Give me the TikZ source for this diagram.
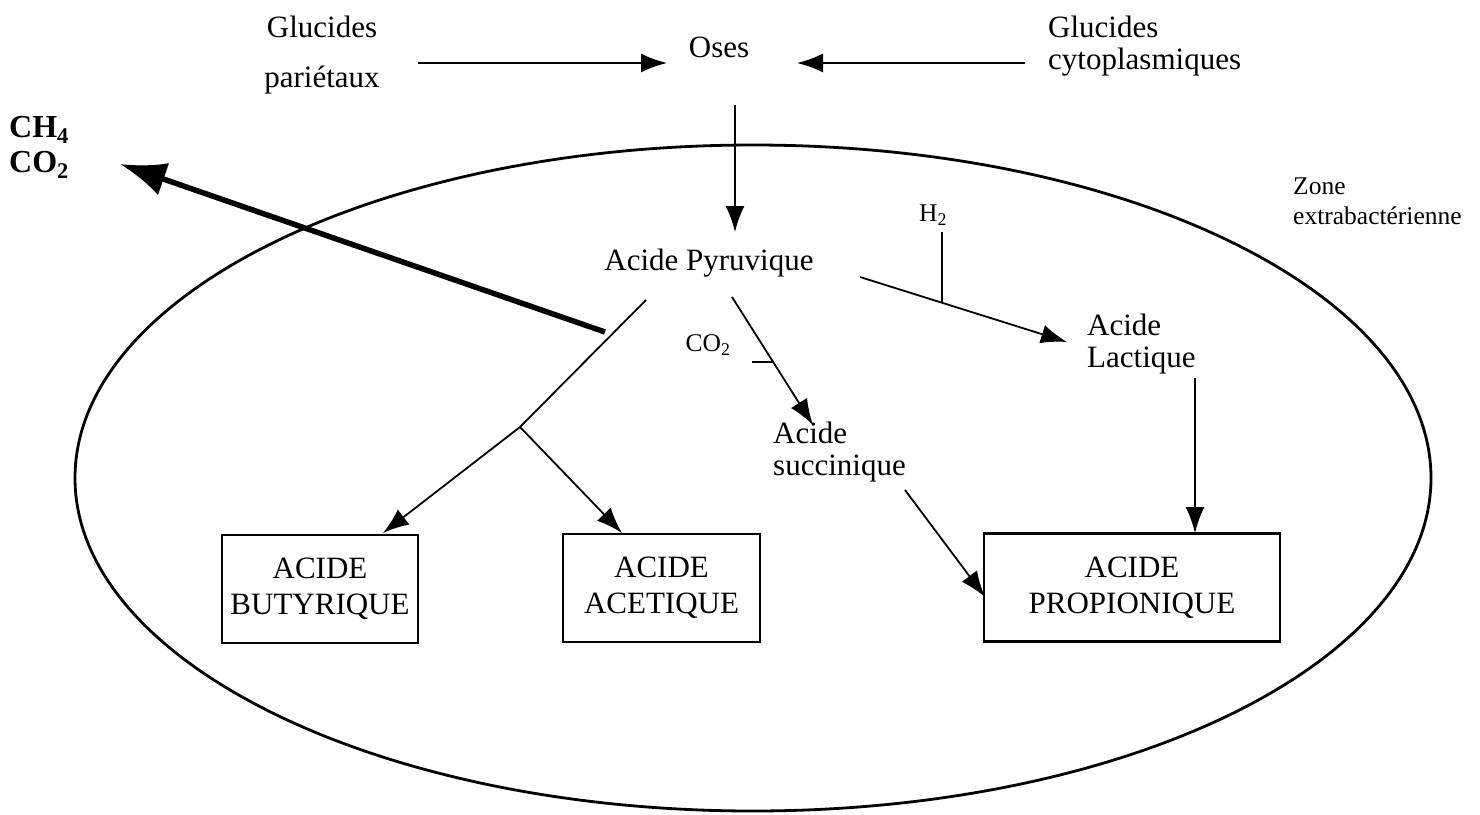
\documentclass[tikz,border=0pt]{standalone}
\usepackage{fontspec}
\setmainfont{Liberation Serif}
\usetikzlibrary{arrows.meta}
\begin{document}
\begin{tikzpicture}[x=1pt,y=-1pt,
  lbl/.style={font=\fontsize{31}{35}\selectfont, inner sep=0pt},
  sml/.style={font=\fontsize{25.5}{29}\selectfont, inner sep=0pt},
  bld/.style={font=\fontsize{32}{36}\selectfont\bfseries, inner sep=0pt, anchor=west},
  conn/.style={line width=1.8pt, -{Latex[length=26pt,width=19pt]}},
  plain/.style={line width=1.8pt},
  boxed/.style={draw, line width=2.6pt, minimum width=#1, minimum height=108pt, align=center,
     font=\fontsize{31}{36}\selectfont, inner sep=0pt},
]
\useasboundingbox (0,0) rectangle (1480,814);
% cell boundary
\draw[line width=2.8pt] (753,478) ellipse [x radius=678, y radius=333];

% texts
\node[lbl] (gp1) at (322,27) {Glucides};
\node[lbl] (gp2) at (322,80) {pariétaux};
\node[lbl] (oses) at (719,47) {Oses};
\node[lbl, anchor=west] (gc1) at (1048,27) {Glucides};
\node[lbl, anchor=west] (gc2) at (1048,62) {cytoplasmiques};
\node[bld] (ch4) at (9,130) {CH\textsubscript{4}};
\node[bld] (co2g) at (9,165) {CO\textsubscript{2}};
\node[lbl] (pyr) at (709,263) {Acide Pyruvique};
\node[sml] (co2) at (708,345) {CO\textsubscript{2}};
\node[sml] (h2) at (933,215) {H\textsubscript{2}};
\node[lbl, anchor=west] (lac1) at (1087,325) {Acide};
\node[lbl, anchor=west] (lac2) at (1087,361) {Lactique};
\node[lbl, anchor=west] (suc1) at (773,433) {Acide};
\node[lbl, anchor=west] (suc2) at (773,469) {succinique};
\node[sml, anchor=west] (z1) at (1293,186) {Zone};
\node[sml, anchor=west] (z2) at (1293,216) {extrabactérienne};

% boxes
\node[boxed=196pt] (but) at (320,589) {ACIDE\\BUTYRIQUE};
\node[boxed=197pt] (ace) at (661.5,588) {ACIDE\\ACETIQUE};
\node[boxed=296pt] (pro) at (1132,587.5) {ACIDE\\PROPIONIQUE};

% coordinates
\coordinate (a1) at (418,63);
\coordinate (a1e) at (667,63);
\coordinate (a2) at (1025,63);
\coordinate (a2e) at (797,63);
\coordinate (d1) at (735,105);
\coordinate (d1e) at (735,232);
\coordinate (t1) at (605,332);
\coordinate (t1e) at (120,164);
\coordinate (b0) at (646,300);
\coordinate (bj) at (520,427);
\coordinate (bbe) at (383,533);
\coordinate (bae) at (622,533);
\coordinate (s0) at (732,297);
\coordinate (se) at (813,425);
\coordinate (ct0) at (752,362);
\coordinate (ct1) at (773,362);
\coordinate (l0) at (860,277);
\coordinate (le) at (1067,342);
\coordinate (ht0) at (942,232);
\coordinate (ht1) at (942,303);
\coordinate (lp0) at (1195,378);
\coordinate (lpe) at (1195,533);
\coordinate (sp0) at (905,490);
\coordinate (spe) at (985,597);

% connectors
\draw[conn] (a1) -- (a1e);
\draw[conn] (a2) -- (a2e);
\draw[conn] (d1) -- (d1e);
\draw[line width=5.5pt, -{Latex[length=46pt,width=34pt]}] (t1) -- (t1e);
\draw[plain] (b0) -- (bj);
\draw[conn] (bj) -- (bbe);
\draw[conn] (bj) -- (bae);
\draw[conn] (s0) -- (se);
\draw[plain] (ct0) -- (ct1);
\draw[conn] (l0) -- (le);
\draw[plain] (ht0) -- (ht1);
\draw[conn] (lp0) -- (lpe);
\draw[conn] (sp0) -- (spe);
\end{tikzpicture}
\end{document}
